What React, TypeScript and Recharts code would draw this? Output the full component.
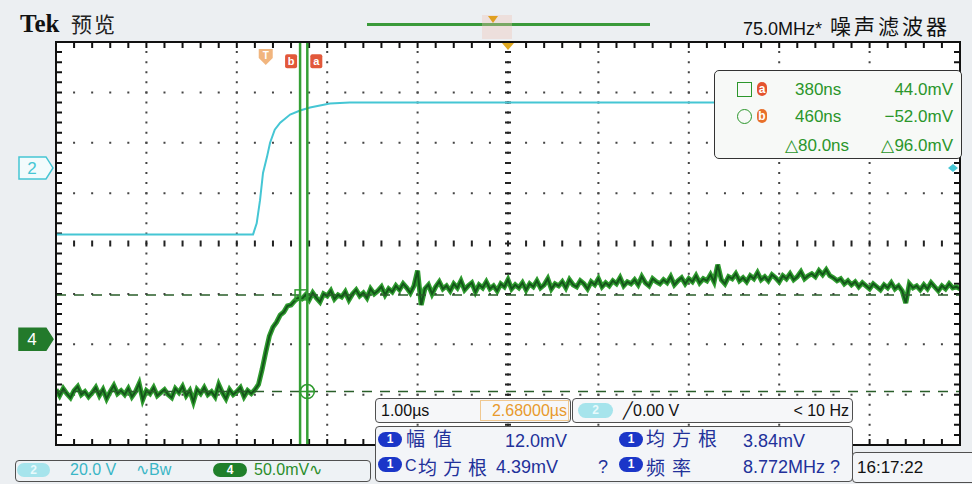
import React from 'react'
import { ComposedChart, Line, XAxis, YAxis, CartesianGrid, ReferenceLine, ReferenceDot } from 'recharts'

// horizontal: 1.00 µs/div, 10 div, screen centre sits 2.68 µs after the trigger
const T_START = -2.32
const T_END = 7.68
const T_CENTER = 2.68
const divTicks = [-1.32, -0.32, 0.68, 1.68, 2.68, 3.68, 4.68, 5.68, 6.68]

// CH4 (green) 50.0 mV/div; screen centre row = 95 mV, graticule rows every 50 mV
const CH4_TOP = 295
const CH4_BOTTOM = -105
const CH4_CENTER = 95
const ch4Rows = [-55, -5, 45, 145, 195, 245]

// CH4 samples, one every 40 ns starting at T_START (mV)
const ch4Step = 0.04
const ch4Mv = [
  -50, -56, -49, -54, -58, -51, -47, -55, -52, -57,
  -53, -48, -56, -50, -59, -52, -46, -54, -51, -55,
  -49, -57, -52, -44, -60, -51, -54, -48, -56, -53,
  -50, -55, -58, -49, -53, -47, -56, -51, -62, -50,
  -54, -48, -55, -52, -57, -45, -53, -59, -50, -55,
  -52, -48, -57, -51, -54, -50,
  -45, -30, -13, 3, 12, 17, 24, 27, 33, 34, 38, 41, 40,
  44, 39, 46, 41, 37, 45, 43, 48, 40, 44,
  42, 47, 39, 45, 49, 43, 46, 41, 50, 45,
  48, 52, 44, 50, 47, 53, 49, 55, 51, 46,
  53, 68, 34, 50, 54, 45, 52, 57, 50, 53,
  48, 55, 51, 58, 49, 53, 56, 47, 54, 51,
  57, 50, 53, 48, 55, 52, 59, 50, 54, 51,
  56, 49, 55, 52, 58, 51, 54, 60, 50, 55,
  53, 57, 51, 59, 54, 52, 58, 55, 50, 57,
  54, 60, 52, 56, 53, 58, 55, 61, 53, 57,
  55, 59, 54, 62, 56, 53, 60, 57, 55, 59,
  56, 62, 54, 58, 61, 55, 60, 57, 63, 56,
  60, 58, 64, 57, 74, 59, 55, 62, 60, 65,
  58, 61, 57, 63, 60, 66, 59, 62, 58, 64,
  61, 57, 63, 60, 65, 59, 62, 67, 60, 63,
  65, 62, 68, 64, 69, 63, 61, 58, 60, 55,
  58, 54, 57, 52, 56, 53, 50, 55, 52, 49,
  54, 51, 56, 50, 53, 48, 36, 55, 51, 53,
  49, 54, 50, 56, 52, 48, 53, 50, 55, 51,
  52, 50,
]

// CH2 (cyan) 20.0 V/div
const ch2Time = [-2.32, -0.14, -0.1, -0.063, -0.03, 0.014, 0.048, 0.1, 0.16, 0.27, 0.38, 0.49, 0.6, 0.71, 0.93, 7.68]
const ch2Volt = [-26.4, -26.4, -22.0, -12.8, -2.0, 4.4, 10.0, 15.2, 18.0, 21.2, 22.8, 24.0, 24.8, 25.6, 26.0, 26.0]

// cursors a / b
const cursorTime = [0.38, 0.46]
const cursorMv = [44.0, -52.0]

const ch4Data = ch4Mv.map((v, i) => ({ t: +(T_START + i * ch4Step).toFixed(3), v }))
const ch2Data = ch2Time.map((t, i) => ({ t, v: ch2Volt[i] }))

const SANS = "'Liberation Sans', Arial, sans-serif"
const CJK = "'Noto Sans CJK SC', sans-serif"
const NAVY = '#22319a'
const CGREEN = '#2b962b'

// plot 904 x 403 px: 90.4 px/µs, ~1 px/mV
const EDGE_T = 3 / 90.4
const EDGE_MV = 3

const groundTag = (label: string, fill: string, stroke: string, color: string) => (p: any) => {
  const { cx, cy } = p
  const x0 = cx - 37, x1 = cx - 10, tip = cx - 3
  return (
    <g>
      <path d={`M${x0},${cy - 11} H${x1} L${tip},${cy} L${x1},${cy + 11} H${x0} Z`} fill={fill} stroke={stroke} strokeWidth={1.5} />
      <text x={x0 + 13} y={cy + 6} textAnchor="middle" fontSize={17} fill={color} fontFamily={SANS}>{label}</text>
    </g>
  )
}

const badge = (label: string, dx: number, bg: string) => (p: any) => {
  const { cx, cy } = p
  return (
    <g>
      <rect x={cx + dx - 6} y={cy - 7} width={12} height={14} rx={2} fill={bg} />
      <text x={cx + dx} y={cy + 4} textAnchor="middle" fontSize={11} fontWeight={700} fill="#fff" fontFamily={SANS}>{label}</text>
    </g>
  )
}

const trigIcon = (p: any) => {
  const { cx, cy } = p
  return (
    <g>
      <path d={`M${cx - 7},${cy - 8} H${cx + 7} V${cy + 1} L${cx},${cy + 8} L${cx - 7},${cy + 1} Z`} fill="#f1b57e" />
      <text x={cx} y={cy + 2} textAnchor="middle" fontSize={10} fontWeight={700} fill="#fff" fontFamily={SANS}>T</text>
    </g>
  )
}

const Txt = ({ x, y, right, size = 16, color = '#111', font = SANS, spacing, bold, children }: any) => (
  <div style={{ position: 'absolute', left: right === undefined ? x : undefined, right, top: y, fontSize: size, color, fontFamily: font, lineHeight: 1, whiteSpace: 'nowrap', letterSpacing: spacing, fontWeight: bold ? 700 : 400 }}>{children}</div>
)

const Box = ({ x, y, w, h, bg = '#f3f5f7', border = '#505050', r = 4 }: any) => (
  <div style={{ position: 'absolute', left: x, top: y, width: w, height: h, boxSizing: 'border-box', border: `1.5px solid ${border}`, borderRadius: r, background: bg }} />
)

const Pill = ({ x, y, w = 24, h = 15, bg, color = '#fff', text }: any) => (
  <div style={{ position: 'absolute', left: x, top: y, width: w, height: h, borderRadius: h / 2, background: bg, color, fontSize: 12, fontWeight: 700, lineHeight: `${h}px`, textAlign: 'center', fontFamily: SANS }}>{text}</div>
)

export default function App() {
  return (
    <div style={{ position: 'absolute', left: 0, top: 0, width: 972, height: 484, overflow: 'hidden', background: '#eceff2', fontFamily: SANS }}>
      <div style={{ position: 'absolute', left: 56, top: 42, width: 904, height: 403, background: '#fff' }} />
      <div style={{ position: 'absolute', left: 0, top: 0 }}>
        <ComposedChart width={972} height={484} margin={{ top: 42, right: 12, bottom: 39, left: 56 }}>
          <XAxis type="number" dataKey="t" domain={[T_START, T_END]} ticks={divTicks} allowDataOverflow hide />
          <YAxis yAxisId="ch4" type="number" domain={[CH4_BOTTOM, CH4_TOP]} ticks={ch4Rows} allowDataOverflow hide />
          <YAxis yAxisId="ch2" type="number" domain={[-110, 50]} allowDataOverflow hide />
          <CartesianGrid yAxisId="ch4" vertical={false} stroke="#444" strokeWidth={2} strokeDasharray="2 16.08" strokeDashoffset={1} />
          <CartesianGrid yAxisId="ch4" horizontal={false} stroke="#444" strokeWidth={2} strokeDasharray="2 8.075" strokeDashoffset={1} />
          {/* centre crosshair with minor ticks */}
          <ReferenceLine yAxisId="ch4" y={CH4_CENTER} stroke="#222" strokeWidth={6} strokeDasharray="2 16.08" strokeDashoffset={1} />
          <ReferenceLine yAxisId="ch4" x={T_CENTER} stroke="#222" strokeWidth={6} strokeDasharray="2 8.075" strokeDashoffset={1} />
          {/* frame ticks */}
          <ReferenceLine yAxisId="ch4" y={CH4_TOP - EDGE_MV} stroke="#111" strokeWidth={6} strokeDasharray="2 16.08" strokeDashoffset={1} />
          <ReferenceLine yAxisId="ch4" y={CH4_BOTTOM + EDGE_MV} stroke="#111" strokeWidth={6} strokeDasharray="2 16.08" strokeDashoffset={1} />
          <ReferenceLine yAxisId="ch4" x={T_START + EDGE_T} stroke="#111" strokeWidth={6} strokeDasharray="2 8.075" strokeDashoffset={1} />
          <ReferenceLine yAxisId="ch4" x={T_END - EDGE_T} stroke="#111" strokeWidth={6} strokeDasharray="2 8.075" strokeDashoffset={1} />

          <Line data={ch2Data} dataKey="v" yAxisId="ch2" type="linear" stroke="#45c6d4" strokeWidth={2} dot={false} isAnimationActive={false} />
          <Line data={ch4Data} dataKey="v" yAxisId="ch4" type="linear" stroke="#2f9c2f" strokeWidth={5} dot={false} isAnimationActive={false} />
          <Line data={ch4Data} dataKey="v" yAxisId="ch4" type="linear" stroke="#14561a" strokeWidth={2} dot={false} isAnimationActive={false} />

          {/* cursors */}
          <ReferenceLine yAxisId="ch4" y={cursorMv[0]} stroke="#2a5e2a" strokeWidth={1.5} strokeDasharray="10 8" />
          <ReferenceLine yAxisId="ch4" y={cursorMv[1]} stroke="#2a5e2a" strokeWidth={1.5} strokeDasharray="10 8" />
          <ReferenceLine yAxisId="ch4" x={cursorTime[0]} stroke="#35a035" strokeWidth={2.5} />
          <ReferenceLine yAxisId="ch4" x={cursorTime[1]} stroke="#35a035" strokeWidth={2.5} />
          <ReferenceDot yAxisId="ch4" x={cursorTime[0]} y={cursorMv[0]} shape={(p: any) => (
            <rect x={p.cx - 5} y={p.cy - 5} width={12} height={10} fill="none" stroke="#2f9a2f" strokeWidth={1.5} />
          )} />
          <ReferenceDot yAxisId="ch4" x={cursorTime[1]} y={cursorMv[1]} shape={(p: any) => (
            <g fill="none" stroke="#2f9a2f" strokeWidth={1.5}>
              <circle cx={p.cx} cy={p.cy} r={7} />
              <path d={`M${p.cx - 7},${p.cy} H${p.cx + 7} M${p.cx},${p.cy - 7} V${p.cy + 7}`} />
            </g>
          )} />
          <ReferenceDot yAxisId="ch4" x={0} y={280} shape={trigIcon} />
          <ReferenceDot yAxisId="ch4" x={cursorTime[0]} y={276} shape={badge('b', -9, '#e2583a')} />
          <ReferenceDot yAxisId="ch4" x={cursorTime[1]} y={276} shape={badge('a', 9, '#e2583a')} />

          {/* channel ground markers and position markers */}
          <ReferenceDot yAxisId="ch2" x={T_START} y={0} shape={groundTag('2', '#f2fbfc', '#45c6d4', '#45c6d4')} />
          <ReferenceDot yAxisId="ch4" x={T_START} y={0} shape={groundTag('4', '#237a2b', '#237a2b', '#fff')} />
          <ReferenceDot yAxisId="ch2" x={T_END} y={0} shape={(p: any) => (
            <path d={`M${p.cx - 12},${p.cy} L${p.cx - 7},${p.cy - 4} L${p.cx - 2},${p.cy} L${p.cx - 7},${p.cy + 4} Z`} fill="#45c6d4" />
          )} />
          <ReferenceDot yAxisId="ch4" x={T_CENTER} y={CH4_TOP} shape={(p: any) => (
            <path d={`M${p.cx - 6},${p.cy + 1} L${p.cx + 6},${p.cy + 1} L${p.cx},${p.cy + 8} Z`} fill="#e0a820" />
          )} />
        </ComposedChart>
      </div>
      <div style={{ position: 'absolute', left: 55, top: 41, width: 906, height: 405, boxSizing: 'border-box', border: '2px solid #111', pointerEvents: 'none' }} />

      {/* header */}
      <Txt x={20} y={11} size={25} bold font="'Liberation Serif', serif">Tek</Txt>
      <Txt x={71} y={13} size={21} font={CJK} spacing={2} color="#222">预览</Txt>
      <div style={{ position: 'absolute', left: 367, top: 23, width: 283, height: 2.5, background: '#3a9a3a' }} />
      <div style={{ position: 'absolute', left: 482, top: 15, width: 30, height: 24, background: 'rgba(240,196,180,0.35)' }} />
      <div style={{ position: 'absolute', left: 488, top: 16, width: 0, height: 0, borderLeft: '5px solid transparent', borderRight: '5px solid transparent', borderTop: '7px solid #e0a020' }} />
      <Txt x={743} y={20} size={18} color="#111">75.0MHz*</Txt>
      <Txt x={830} y={15} size={21} font={CJK} spacing={3} color="#111">噪声滤波器</Txt>

      {/* cursor readout */}
      <Box x={714} y={70} w={248} h={89} bg="#f7f9f7" border="#333" r={5} />
      <div style={{ position: 'absolute', left: 737, top: 82, width: 13, height: 13, border: `1.5px solid ${CGREEN}` }} />
      <Pill x={757} y={82} w={10} h={14} bg="#e4532f" text="a" />
      <Txt x={795} y={81} size={17} color={CGREEN}>380ns</Txt>
      <Txt right={19} y={81} size={17} color={CGREEN}>44.0mV</Txt>
      <div style={{ position: 'absolute', left: 737, top: 109, width: 13, height: 13, borderRadius: 8, border: `1.5px solid ${CGREEN}` }} />
      <Pill x={757} y={109} w={10} h={14} bg="#e8702a" text="b" />
      <Txt x={795} y={108} size={17} color={CGREEN}>460ns</Txt>
      <Txt right={19} y={108} size={17} color={CGREEN}>−52.0mV</Txt>
      <Txt x={785} y={137} size={17} color={CGREEN}>△80.0ns</Txt>
      <Txt right={19} y={137} size={17} color={CGREEN}>△96.0mV</Txt>

      {/* vertical settings */}
      <Box x={15} y={460} w={356} h={22} bg="#eef2f5" />
      <Pill x={17} y={463} w={33} h={14} bg="#a6e4ec" color="#e8fafc" text="2" />
      <Txt x={70} y={462} size={16} color="#3ab6c6">20.0 V</Txt>
      <Txt x={136} y={462} size={16} color="#3ab6c6">∿Bw</Txt>
      <Pill x={213} y={463} w={34} h={14} bg="#1f7f2a" text="4" />
      <Txt x={254} y={462} size={16} color="#2a8d2a">50.0mV∿</Txt>

      {/* horizontal / trigger */}
      <Box x={375} y={398} w={196} h={25} bg="#f6f7f9" />
      <Box x={572} y={398} w={281} h={25} bg="#f6f7f9" />
      <Txt x={381} y={403} size={16}>1.00µs</Txt>
      <div style={{ position: 'absolute', left: 480, top: 400, width: 89, height: 21, boxSizing: 'border-box', border: '1px solid #f0c890' }} />
      <Txt right={405} y={403} size={16} color="#e89a2c">2.68000µs</Txt>
      <Pill x={578} y={403} w={35} h={15} bg="#a6e4ec" color="#e8fafc" text="2" />
      <Txt x={623} y={403} size={16}>╱0.00 V</Txt>
      <Txt right={123} y={403} size={16}>&lt; 10 Hz</Txt>

      {/* measurements */}
      <Box x={375} y={426} w={478} h={56} bg="#f3f5f8" />
      <Pill x={378} y={432} bg="#1b36c8" text="1" />
      <Txt x={406} y={428} size={19} font={CJK} spacing={8} color={NAVY}>幅值</Txt>
      <Txt right={405} y={432} size={18} color={NAVY}>12.0mV</Txt>
      <Pill x={619} y={432} bg="#1b36c8" text="1" />
      <Txt x={646} y={428} size={19} font={CJK} spacing={7} color={NAVY}>均方根</Txt>
      <Txt x={743} y={432} size={18} color={NAVY}>3.84mV</Txt>
      <Pill x={378} y={457} bg="#1b36c8" text="1" />
      <Txt x={405} y={458} size={16} color={NAVY}>C</Txt>
      <Txt x={418} y={457} size={19} font={CJK} spacing={6} color={NAVY}>均方根</Txt>
      <Txt x={496} y={458} size={18} color={NAVY}>4.39mV</Txt>
      <Txt x={598} y={458} size={18} color={NAVY}>?</Txt>
      <Pill x={619} y={457} bg="#1b36c8" text="1" />
      <Txt x={646} y={457} size={19} font={CJK} spacing={7} color={NAVY}>频率</Txt>
      <Txt x={743} y={458} size={18} color={NAVY}>8.772MHz ?</Txt>

      <Box x={852} y={452} w={125} h={31} bg="#f3f5f8" />
      <Txt x={857} y={459} size={17}>16:17:22</Txt>
    </div>
  )
}
